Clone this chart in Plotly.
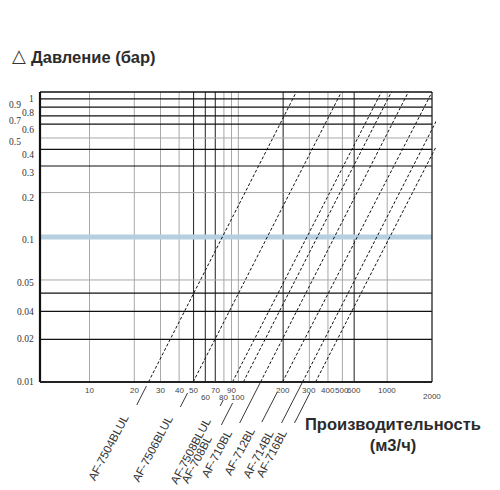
import numpy as np
import plotly.graph_objects as go

W, H = 500, 490

# ---------------- data ----------------
models = ["AF-7504BLUL", "AF-7506BLUL", "AF-7508BLUL", "AF-708BL",
          "AF-710BL", "AF-712BL", "AF-714BL", "AF-716BL"]
flow_at_001bar = [24.9, 49.7, 91.3, 108.0, 141.0, 198.0, 270.0, 330.0]   # m3/h at 0.01 bar
flow_at_1bar = [232.0, 466.0, 865.0, 1010.0, 1313.0, 1894.0, 2544.0, 3110.0]  # m3/h at 1 bar

x_tick_vals = [10, 20, 30, 40, 50, 60, 70, 80, 90, 100, 200, 300, 400, 500, 600, 1000, 2000]
x_tick_text = ["10", "20", "30", "40", "50", "60", "70", "80", "90", "100",
               "200", "300", "400", "500", "600", "1000", "2000"]
x_grid_vals = [10, 20, 30, 40, 50, 60, 70, 80, 90, 100, 200, 300, 400, 500, 600, 1000]
x_grid_dark = [50, 60, 70, 200, 600]

y_tick_vals = [1, 0.9, 0.8, 0.7, 0.6, 0.5, 0.4, 0.3, 0.2, 0.1, 0.05, 0.031, 0.02, 0.01]
y_tick_text = ["1", "0.9", "0.8", "0.7", "0.6", "0.5", "0.4", "0.3", "0.2", "0.1",
               "0.05", "0.04", "0.02", "0.01"]
y_grid_vals = [1.0, 0.875, 0.76, 0.665, 0.53, 0.44, 0.336, 0.218, 0.0526, 0.0424, 0.0316, 0.02]
y_grid_gray = [0.53, 0.218, 0.0526]
y_band = 0.106

# ---------------- layout / style constants ----------------
OFF = 8  # page body margin in the browser
X_LEFT, X_RIGHT = 4.65, 2000.0
Y_BOT, Y_TOP = 0.01, 1.12
PXDEC_X, PXDEC_Y = 148.9, 141.5
LEFT_PX, TOP_PX = 39.5 - OFF, 92.3 - OFF
PAD = 4
EXTRA_BOTTOM = 62

x_outer_row = {60: 1, 80: 1, 100: 1, 2000: 1}
y_outer_col = ["0.9", "0.7", "0.5"]
leader_start = [4, 11, 18, 21, 0, 11, 1, 11]    # px below axis
leader_end = [23, 25, 24, 43, 41, 40, 41, 41]
label_end = [28, 29, 31, 49, 43, 41, 44, 43]

xr = [np.log10(X_LEFT) - PAD / PXDEC_X, np.log10(X_RIGHT) + PAD / PXDEC_X]
yr = [np.log10(Y_BOT) - EXTRA_BOTTOM / PXDEC_Y, np.log10(Y_TOP) + PAD / PXDEC_Y]
ml = LEFT_PX - PAD
pw = (xr[1] - xr[0]) * PXDEC_X
mr = W - ml - pw
mt = TOP_PX - PAD
ph = (yr[1] - yr[0]) * PXDEC_Y
mb = H - mt - ph


def px2paper_x(px):
    return (px - OFF - ml) / pw


def px2paper_y(py):
    return (mt + ph - (py - OFF)) / ph


def dp_below(off):
    return Y_BOT * 10 ** (-off / PXDEC_Y)


def flow(i, dp):
    n = np.log10(flow_at_1bar[i] / flow_at_001bar[i]) / 2.0
    return flow_at_001bar[i] * (dp / 0.01) ** n


fig = go.Figure()


def seg_trace(xs, ys, color, width, dash="solid"):
    fig.add_trace(go.Scatter(x=xs, y=ys, mode="lines", hoverinfo="skip",
                             line=dict(color=color, width=width, dash=dash),
                             showlegend=False))


# vertical grid
for dark in (False, True):
    xs, ys = [], []
    for v in x_grid_vals:
        if (v in x_grid_dark) == dark:
            xs += [v, v, None]
            ys += [Y_BOT, Y_TOP, None]
    seg_trace(xs, ys, "#333333" if dark else "#a8a8a8", 1.1 if dark else 1.0)

# horizontal grid
for gray in (False, True):
    xs, ys = [], []
    for v in y_grid_vals:
        if (v in y_grid_gray) == gray:
            xs += [X_LEFT, X_RIGHT, None]
            ys += [v, v, None]
    seg_trace(xs, ys, "#a8a8a8" if gray else "#111111", 1.0 if gray else 1.2)

# blue band at 0.1
seg_trace([X_LEFT, X_RIGHT], [y_band, y_band], "#b6cfe1", 5)

# series lines + leaders
for i, name in enumerate(models):
    ys = [Y_BOT, Y_TOP]
    seg_trace([flow(i, d) for d in ys], ys, "#111111", 1.0, dash="3px,2px")
    d0, d1 = dp_below(leader_start[i]), dp_below(leader_end[i])
    seg_trace([flow(i, d0), flow(i, d1)], [d0, d1], "#222222", 0.9)

# borders
seg_trace([X_LEFT, X_RIGHT], [Y_TOP, Y_TOP], "#111111", 1.6)
seg_trace([X_RIGHT, X_RIGHT], [Y_BOT, Y_TOP], "#222222", 1.3)
seg_trace([X_LEFT, X_LEFT], [Y_BOT, Y_TOP], "#111111", 2.2)
seg_trace([X_LEFT, X_RIGHT], [Y_BOT, Y_BOT], "#222222", 2.2)

annotations = []
# x tick labels
for v, t in zip(x_tick_vals, x_tick_text):
    row = x_outer_row.get(v, 0)
    annotations.append(dict(x=np.log10(v), y=np.log10(Y_BOT), xref="x", yref="y",
                            text=t, showarrow=False, xanchor="center", yanchor="middle",
                            yshift=-9 - (6 if v == 2000 else 7 * row),
                            font=dict(family="Liberation Sans, Arial", size=8, color="#444444")))
# y tick labels
for v, t in zip(y_tick_vals, y_tick_text):
    outer = t in y_outer_col
    annotations.append(dict(x=np.log10(X_LEFT), y=np.log10(v), xref="x", yref="y",
                            text=t, showarrow=False, xanchor="right", yanchor="middle",
                            xshift=-17 if outer else -4,
                            font=dict(family="Liberation Serif, Times New Roman", size=9.5,
                                      color="#333333")))
# model labels
for i, name in enumerate(models):
    d = dp_below(label_end[i])
    annotations.append(dict(x=np.log10(flow(i, d)), y=np.log10(d), xref="x", yref="y",
                            text=name, showarrow=False, xanchor="right", yanchor="top",
                            textangle=-62, xshift=-1,
                            font=dict(family="Liberation Sans, Arial", size=11.5,
                                      color="#333333")))
# titles
annotations.append(dict(x=px2paper_x(18.5), y=px2paper_y(56), xref="paper", yref="paper",
                        text="△", showarrow=False, xanchor="center", yanchor="middle",
                        font=dict(family="DejaVu Sans", size=18, color="#333333")))
annotations.append(dict(x=px2paper_x(28), y=px2paper_y(57), xref="paper", yref="paper",
                        text="<b>Давление (бар)</b>", showarrow=False, xanchor="left",
                        yanchor="middle",
                        font=dict(family="Liberation Sans, Arial", size=16.5, color="#2b2b2b")))
annotations.append(dict(x=px2paper_x(393), y=px2paper_y(434.5), xref="paper", yref="paper",
                        text="<b>Производительность<br>(м3/ч)</b>", showarrow=False,
                        xanchor="center", yanchor="middle", align="center",
                        font=dict(family="Liberation Sans, Arial", size=16.5, color="#2b2b2b")))

fig.update_layout(
    width=W, height=H,
    margin=dict(l=ml, r=mr, t=mt, b=mb, pad=0),
    paper_bgcolor="white", plot_bgcolor="white",
    xaxis=dict(type="log", range=xr, visible=False),
    yaxis=dict(type="log", range=yr, visible=False),
    annotations=annotations,
    showlegend=False,
)

fig.write_html("out.html")
